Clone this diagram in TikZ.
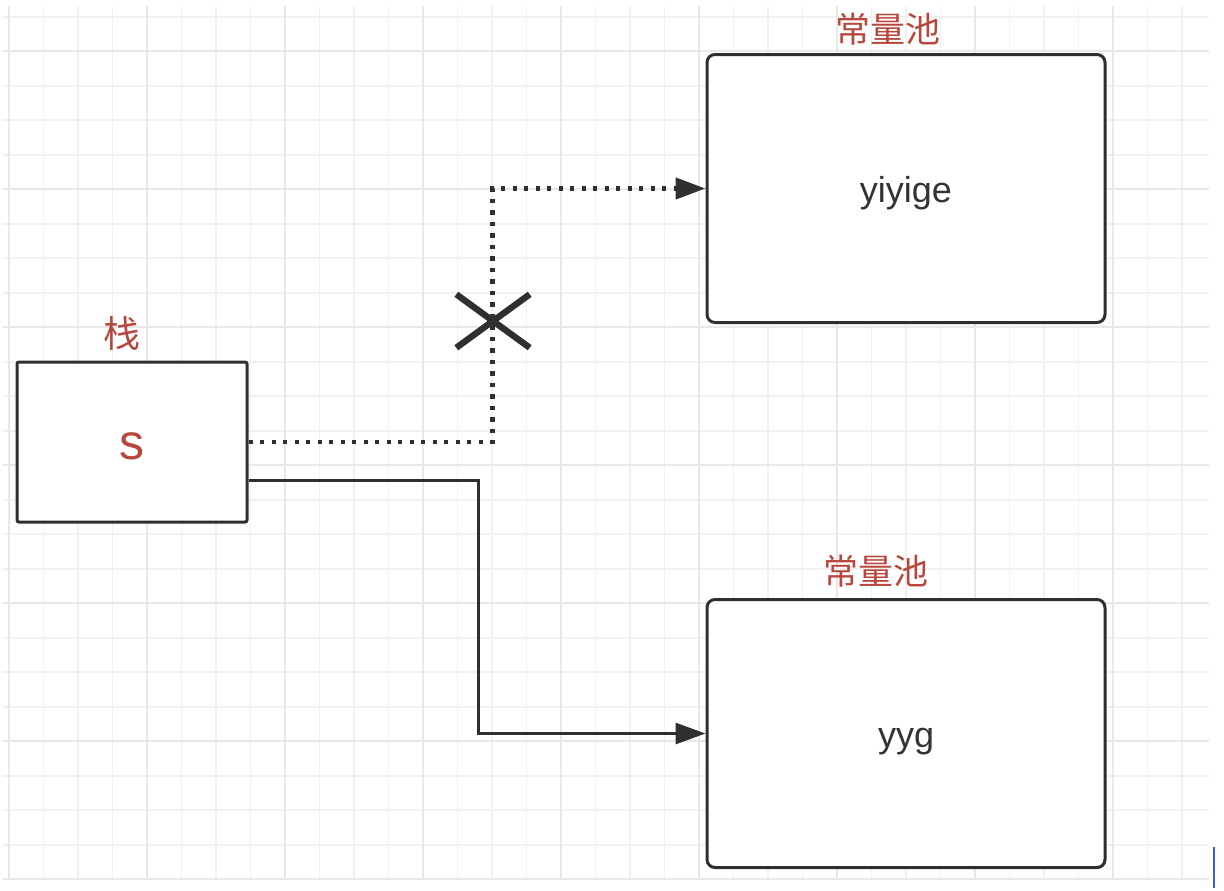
\documentclass[tikz,border=0pt]{standalone}
\usepackage{fontspec}
\setmainfont{Liberation Sans}
\newfontfamily\cjk{Noto Sans CJK SC}
\usetikzlibrary{arrows.meta,positioning,shapes.misc}
\definecolor{memInk}{HTML}{2F2F2F}
\definecolor{memText}{HTML}{333333}
\definecolor{memRed}{HTML}{B7473D}
\definecolor{memGrid}{HTML}{F1F1F1}
\definecolor{memGridMajor}{HTML}{E8E8E8}
\definecolor{memCursor}{HTML}{3B5FD9}
\tikzset{
  every picture/.style={text=memText},
  grid minor/.style={draw=memGrid, line width=0.8pt},
  grid major/.style={draw=memGridMajor, line width=1pt},
  stack box/.style={draw=memInk, line width=1.5pt, rounded corners=1pt,
    fill=white, minimum width=115pt, minimum height=80pt, inner sep=0pt,
    text height=17pt, text depth=0pt,
    text=memRed, font=\fontsize{25}{28}\selectfont},
  pool box/.style={draw=memInk, line width=1.5pt, rounded corners=4pt,
    fill=white, minimum width=199pt, minimum height=134pt, inner sep=0pt,
    text height=14.4pt, text depth=0pt,
    font=\fontsize{18}{21}\selectfont},
  cap label/.style={text=memRed, font=\cjk\fontsize{17.5}{20}\selectfont},
  pool link/.style={-{Triangle[length=15pt,width=10.5pt]},
    draw=memInk, line width=1.5pt},
  pool ghost/.style={-{Triangle[length=15pt,width=10.5pt]},
    draw=memInk, line width=2.2pt, dash pattern=on 2.2pt off 3.55pt},
  cut mark/.style={cross out, draw=memInk, line width=3.2pt,
    minimum width=33.5pt, minimum height=23.5pt, inner sep=0pt}
}

\begin{document}
\begin{tikzpicture}[x=0.5pt,y=-0.5pt]
  \useasboundingbox (0,0) rectangle (1224,890);
  % grid
  \foreach \i in {0,...,34}
    \draw[grid minor] (9+34.5*\i,6) -- (9+34.5*\i,879);
  \foreach \i in {0,...,25}
    \draw[grid minor] (3,16.7+34.5*\i) -- (1209,16.7+34.5*\i);
  \foreach \i in {0,4,...,32}
    \draw[grid major] (9+34.5*\i,6) -- (9+34.5*\i,879);
  \foreach \i in {1,5,...,25}
    \draw[grid major] (3,16.7+34.5*\i) -- (1209,16.7+34.5*\i);
  \draw[memCursor, line width=1pt] (1214,847) -- (1214,888);

  % boxes
  \node[stack box] (s) at (132,442) {s};
  \node[pool box] (pool1) at (906,188.5) {yiyige};
  \node[pool box] (pool2) at (906,733.5) {yyg};
  \node[cap label, font=\cjk\fontsize{18.5}{20}\selectfont] (stackcap) at (122,333) {栈};
  \node[cap label] (poolcap1) at (888,29) {常量池};
  \node[cap label] (poolcap2) at (876,571) {常量池};

  % references
  \draw[pool ghost] (s.east) -- ++(244,0) |- (pool1.west);
  \node[cut mark] (cut) at (493,321) {};
  \draw[pool link] (s.east) ++(0,38) -- ++(230,0) |- (pool2.west);
\end{tikzpicture}
\end{document}
